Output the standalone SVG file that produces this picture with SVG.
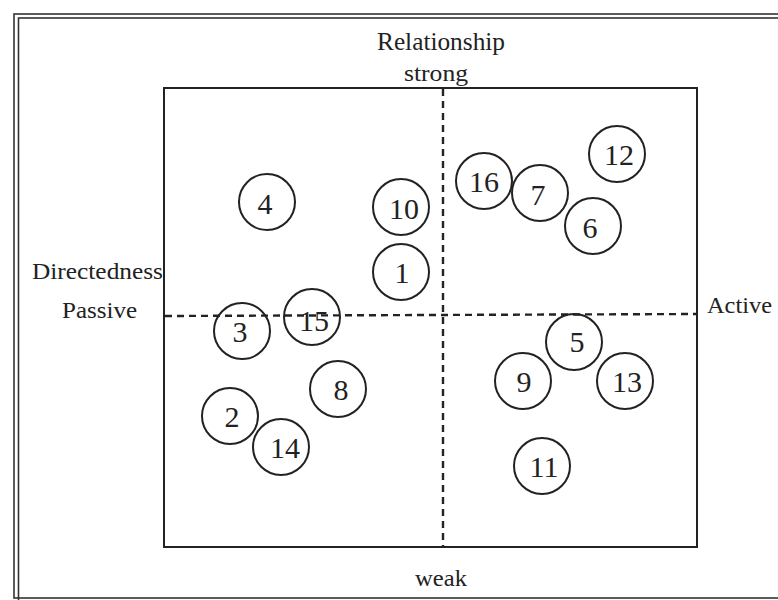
<svg xmlns="http://www.w3.org/2000/svg" width="778" height="600" viewBox="0 0 778 600">
  <style>
    .frame { fill: none; stroke: #333; stroke-width: 1.6; }
    .box { fill: none; stroke: #222; stroke-width: 2; }
    .axis { fill: none; stroke: #222; stroke-width: 2.4; stroke-dasharray: 7 5; }
    .node circle { fill: none; stroke: #222; stroke-width: 2; }
    .node text { font-family: "Liberation Serif", "Times New Roman", serif; font-size: 30px; fill: #222; text-anchor: middle; }
    .label { font-family: "Liberation Serif", "Times New Roman", serif; fill: #222; }
  </style>
  <rect width="778" height="600" fill="#fff"/>

  <!-- double outer frame -->
  <g id="frame">
    <rect class="frame" x="14" y="14" width="790" height="584"/>
    <rect class="frame" x="18.5" y="18" width="790" height="584"/>
  </g>

  <!-- plot area -->
  <rect id="plot" class="box" x="164" y="88" width="533" height="459"/>

  <!-- axes -->
  <g id="axes">
    <line class="axis" x1="443" y1="89" x2="443" y2="546"/>
    <line class="axis" x1="165" y1="316" x2="696" y2="314"/>
  </g>

  <!-- axis labels -->
  <g id="labels">
    <text class="label" x="441" y="50" font-size="25" text-anchor="middle" textLength="128" lengthAdjust="spacingAndGlyphs">Relationship</text>
    <text class="label" x="436" y="81" font-size="24" text-anchor="middle" textLength="64" lengthAdjust="spacingAndGlyphs">strong</text>
    <text class="label" x="441" y="586" font-size="24" text-anchor="middle" textLength="52" lengthAdjust="spacingAndGlyphs">weak</text>
    <text class="label" x="32" y="279" font-size="23" textLength="131" lengthAdjust="spacingAndGlyphs">Directedness</text>
    <text class="label" x="62" y="318" font-size="24" textLength="75" lengthAdjust="spacingAndGlyphs">Passive</text>
    <text class="label" x="707" y="313" font-size="24" textLength="65" lengthAdjust="spacingAndGlyphs">Active</text>
  </g>

  <!-- numbered items -->
  <g id="n1" class="node"><circle cx="401" cy="272" r="28"/><text x="402" y="283">1</text></g>
  <g id="n2" class="node"><circle cx="230" cy="416" r="28"/><text x="232" y="427">2</text></g>
  <g id="n3" class="node"><circle cx="242" cy="331" r="28"/><text x="240" y="342">3</text></g>
  <g id="n4" class="node"><circle cx="267" cy="202" r="28"/><text x="265" y="214">4</text></g>
  <g id="n5" class="node"><circle cx="574" cy="342" r="28"/><text x="577" y="352">5</text></g>
  <g id="n6" class="node"><circle cx="593" cy="226" r="28"/><text x="590" y="238">6</text></g>
  <g id="n7" class="node"><circle cx="540" cy="193" r="28"/><text x="538" y="205">7</text></g>
  <g id="n8" class="node"><circle cx="338" cy="389" r="28"/><text x="341" y="400">8</text></g>
  <g id="n9" class="node"><circle cx="523" cy="381" r="28"/><text x="524" y="392">9</text></g>
  <g id="n10" class="node"><circle cx="401" cy="207" r="28"/><text x="404" y="219">10</text></g>
  <g id="n11" class="node"><circle cx="542" cy="466" r="28"/><text x="544" y="477">11</text></g>
  <g id="n12" class="node"><circle cx="617" cy="154" r="28"/><text x="619" y="165">12</text></g>
  <g id="n13" class="node"><circle cx="625" cy="381" r="28"/><text x="627" y="392">13</text></g>
  <g id="n14" class="node"><circle cx="281" cy="447" r="28"/><text x="285" y="458">14</text></g>
  <g id="n15" class="node"><circle cx="312" cy="317" r="28"/><text x="314" y="331">15</text></g>
  <g id="n16" class="node"><circle cx="484" cy="181" r="28"/><text x="484" y="192">16</text></g>
</svg>
